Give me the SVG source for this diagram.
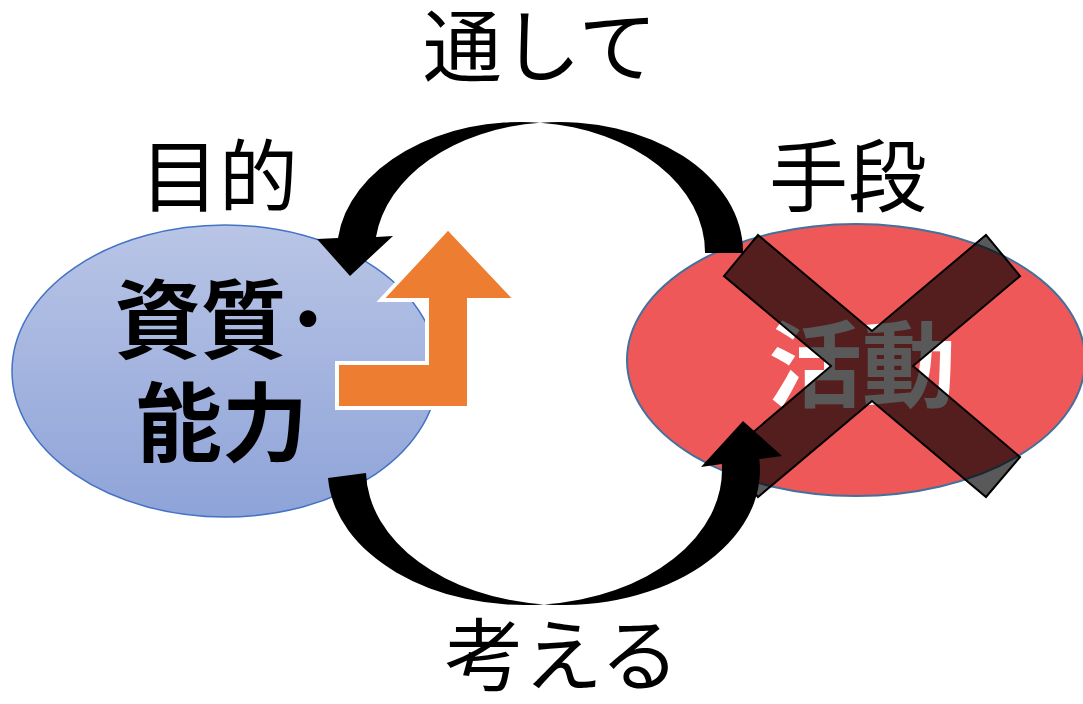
<svg xmlns="http://www.w3.org/2000/svg" width="1083" height="704" viewBox="0 0 1083 704">
<defs>
<linearGradient id="blueGrad" x1="0" y1="0" x2="0" y2="1">
<stop offset="0" stop-color="#b9c5e6"/>
<stop offset="1" stop-color="#8ea3d8"/>
</linearGradient>
<style>
.lbl{font-family:"Noto Sans CJK JP","Noto Sans CJK SC",sans-serif;font-size:79px;fill:#000;text-anchor:middle}
.inner{font-family:"Noto Sans CJK JP","Noto Sans CJK SC",sans-serif;font-weight:bold;font-size:86px;text-anchor:middle}
.curve{fill:#000;stroke:none}
</style>
</defs>
<rect width="1083" height="704" fill="#fff"/>
<g id="node-ability">
<ellipse cx="225" cy="371" rx="213" ry="146" fill="url(#blueGrad)" stroke="#4472c4" stroke-width="1.5"/>
</g>
<g id="node-activity">
<ellipse cx="856" cy="360" rx="229" ry="136" fill="#ef5858" stroke="#41719c" stroke-width="2"/>
<text class="inner" x="862" y="400" fill="#fff" style="font-size:94px">活動</text>
</g>
<g id="connectors">
<path class="curve" d="M743,253 A184,130 0 0 0 540,122.7 A184,130 0 0 0 338,238 L317,239 L350,276 L393,236 L376,237 A184,130 0 0 1 540,122.7 A184,130 0 0 1 705,253 Z"/>
<path class="curve" d="M328,478 A197,135 0 0 0 544,604.4 A197,135 0 0 0 759.3,459 L782,456 L743,421 L701,467 L721.8,464 A197,135 0 0 1 544,604.4 A197,135 0 0 1 366,473 Z"/>
</g>
<g id="node-growth-arrow">
<polygon points="337,363 427,363 427,300 381,300 448,228 516,300 469,300 469,408 337,408" fill="#ed7d31" stroke="#fff" stroke-width="4" stroke-linejoin="miter"/>
</g>
<g id="node-ability-text">
<text class="inner" x="222" y="352" fill="#000">資質･</text>
<text class="inner" x="222" y="455" fill="#000">能力</text>
</g>
<g id="node-cross">
<polygon points="758,235 872,331 986,235 1020,276 913,366 1020,457 986,497 872,401 758,497 724,457 831,366 724,276" fill="#000" fill-opacity="0.65" stroke="#000" stroke-width="2"/>
</g>
<g id="labels">
<text class="lbl" x="540" y="76">通して</text>
<text class="lbl" x="219" y="206">目的</text>
<text class="lbl" x="848" y="206">手段</text>
<text class="lbl" x="562" y="685">考える</text>
</g>
</svg>
